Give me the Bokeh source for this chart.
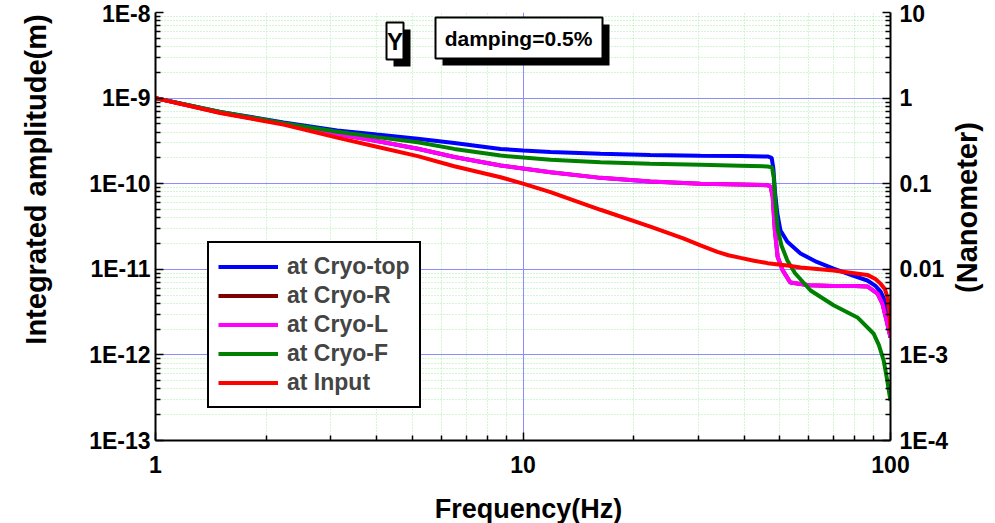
import math
from bokeh.plotting import figure
from bokeh.layouts import row, column
from bokeh.models import (Range1d, LogAxis, LogScale, FixedTicker, Legend, LegendItem,
                          Label, BoxAnnotation)
from bokeh.embed import file_html
from bokeh.resources import INLINE

# ---------------- data ----------------
freq_top = [1, 1.5, 2.23, 3.12, 4.0, 5.17, 6.5, 8.69, 10, 11.88, 16.25, 22.2, 30.4, 39.0, 46.3,
            47.5, 48.0, 48.5, 49.2, 50.2, 52.4, 56.9, 63, 70, 78, 86.5, 91, 94, 96.5, 98.8, 100]
amp_top = [1.0e-9, 6.9e-10, 5.2e-10, 4.18e-10, 3.75e-10, 3.36e-10, 2.98e-10, 2.55e-10, 2.44e-10,
           2.35e-10, 2.24e-10, 2.17e-10, 2.12e-10, 2.10e-10, 2.08e-10, 2.0e-10, 1.5e-10, 8e-11,
           4.5e-11, 2.84e-11, 2.1e-11, 1.53e-11, 1.22e-11, 1.02e-11, 8.6e-12, 7.4e-12, 6.4e-12,
           5.5e-12, 4.3e-12, 2.5e-12, 1.6e-12]

freq_R = [1, 1.5, 2.23, 3.12, 4.0, 5.17, 6.5, 8.69, 11.88, 16.25, 22.2, 30.4, 39.0, 46.3, 47.2,
          47.8, 48.4, 49.3, 50.9, 53.4, 60, 70, 80, 86.5, 92.2, 95, 97.6, 100]
amp_R = [1.0e-9, 6.8e-10, 5.0e-10, 3.8e-10, 3.15e-10, 2.56e-10, 2.05e-10, 1.63e-10, 1.36e-10,
         1.17e-10, 1.06e-10, 1.0e-10, 9.8e-11, 9.6e-11, 9.2e-11, 7e-11, 3e-11, 1.4e-11, 9.7e-12,
         7.0e-12, 6.5e-12, 6.4e-12, 6.4e-12, 6.3e-12, 5.2e-12, 4.0e-12, 2.5e-12, 1.6e-12]

freq_L = [1, 1.5, 2.23, 3.12, 4.0, 5.17, 6.5, 8.69, 11.88, 16.25, 22.2, 30.4, 39.0, 46.3, 47.2,
          47.8, 48.4, 49.3, 50.9, 53.4, 60, 70, 80, 86.5, 92.2, 95, 97.6, 100]
amp_L = [1.0e-9, 6.8e-10, 5.0e-10, 3.8e-10, 3.15e-10, 2.56e-10, 2.05e-10, 1.63e-10, 1.36e-10,
         1.17e-10, 1.06e-10, 1.0e-10, 9.8e-11, 9.6e-11, 9.2e-11, 7e-11, 3e-11, 1.4e-11, 9.7e-12,
         7.0e-12, 6.5e-12, 6.4e-12, 6.4e-12, 6.3e-12, 5.2e-12, 4.0e-12, 2.5e-12, 1.6e-12]

freq_F = [1, 1.5, 2.23, 3.12, 4.0, 5.17, 6.5, 8.69, 11.88, 16.25, 22.2, 30.4, 39.0, 46.3, 47.6,
          48.1, 48.6, 49.3, 50.5, 52.4, 55, 60.6, 70, 81.3, 89.9, 93, 95.8, 98, 100]
amp_F = [1.0e-9, 6.9e-10, 5.1e-10, 4.05e-10, 3.5e-10, 3.05e-10, 2.55e-10, 2.13e-10, 1.9e-10,
         1.78e-10, 1.71e-10, 1.66e-10, 1.62e-10, 1.59e-10, 1.55e-10, 1.2e-10, 6e-11, 3e-11,
         1.9e-11, 1.27e-11, 9e-12, 5.65e-12, 3.8e-12, 2.74e-12, 1.78e-12, 1.3e-12, 8.6e-13,
         5e-13, 2.9e-13]

freq_in = [1, 1.5, 2.23, 3.12, 4.0, 5.17, 6.5, 8.69, 10, 11.88, 16.25, 22.2, 27.3, 30.4, 33.8,
           36.2, 39.1, 42.5, 46.3, 52.4, 56.9, 70, 86.5, 91, 93.9, 96.5, 98.1, 99.3, 100]
amp_in = [1.0e-9, 6.7e-10, 4.9e-10, 3.45e-10, 2.7e-10, 2.1e-10, 1.6e-10, 1.19e-10, 1.0e-10,
          7.96e-11, 4.96e-11, 3.16e-11, 2.3e-11, 1.9e-11, 1.6e-11, 1.46e-11, 1.36e-11, 1.26e-11,
          1.18e-11, 1.11e-11, 1.05e-11, 9.7e-12, 8.6e-12, 7.7e-12, 6.8e-12, 5.9e-12, 4.7e-12,
          3.2e-12, 1.8e-12]

series_labels = ["at Cryo-top", "at Cryo-R", "at Cryo-L", "at Cryo-F", "at Input"]
series_colors = ["#0000ff", "#800000", "#ff00ff", "#008000", "#ff0000"]

x_ticks = [1, 10, 100]
x_tick_labels = ["1", "10", "100"]
y_ticks = [1e-13, 1e-12, 1e-11, 1e-10, 1e-9, 1e-8]
y_tick_labels = ["1E-13", "1E-12", "1E-11", "1E-10", "1E-9", "1E-8"]
nm_ticks = [1e-4, 1e-3, 0.01, 0.1, 1, 10]
nm_tick_labels = ["1E-4", "1E-3", "0.01", "0.1", "1", "10"]

x_label = "Frequency(Hz)"
y_label = "Integrated amplitude(m)"
nm_label = "(Nanometer)"
title_axis = "Y"
title_damping = "damping=0.5%"

FONT = "Liberation Sans"

# minor tick positions
x_minor = [m * 10 ** e for e in range(0, 2) for m in range(2, 10)]
y_minor = [m * 10.0 ** e for e in range(-13, -8) for m in range(2, 10)]
nm_minor = [m * 10.0 ** e for e in range(-4, 1) for m in range(2, 10)]

# ---------------- main plot ----------------
p = figure(frame_width=735, frame_height=428,
           x_axis_type="log", y_axis_type="log",
           x_range=Range1d(1, 100), y_range=Range1d(1e-13, 1e-8),
           output_backend="svg", toolbar_location=None,
           min_border_left=95, min_border_right=60, min_border_top=12, min_border_bottom=43)
p.outline_line_color = None
p.background_fill_color = "white"

p.extra_y_ranges = {"nm": Range1d(1e-4, 10)}
p.extra_y_scales = {"nm": LogScale()}

xt = FixedTicker(ticks=x_ticks, minor_ticks=x_minor)
yt = FixedTicker(ticks=y_ticks, minor_ticks=y_minor)
p.xaxis.ticker = xt
p.yaxis.ticker = yt
p.xaxis.major_label_overrides = dict(zip(x_ticks, x_tick_labels))
p.yaxis.major_label_overrides = dict(zip(y_ticks, y_tick_labels))

right = LogAxis(y_range_name="nm", ticker=FixedTicker(ticks=nm_ticks, minor_ticks=nm_minor))
right.major_label_overrides = dict(zip(nm_ticks, nm_tick_labels))
p.add_layout(right, "right")

for ax in [p.xaxis[0], p.yaxis[0], right]:
    ax.axis_line_color = "black"
    ax.axis_line_width = 2
    ax.major_tick_in = 8
    ax.major_tick_out = 0
    ax.minor_tick_in = 5
    ax.minor_tick_out = 0
    ax.major_tick_line_width = 1.5
    ax.minor_tick_line_width = 1.5
    ax.major_label_text_font = FONT
    ax.major_label_text_font_style = "bold"
    ax.major_label_text_font_size = "23px"
    ax.major_label_text_color = "black"
p.xaxis.major_label_standoff = 15
p.yaxis.major_label_standoff = 5
right.major_label_standoff = 9

for g in [p.xgrid[0], p.ygrid[0]]:
    g.grid_line_color = "#8c8cff"
    g.grid_line_width = 1
    g.minor_grid_line_color = "#a8eca8"
    g.minor_grid_line_dash = "1 2"
    g.minor_grid_line_width = 1
p.xgrid.ticker = xt
p.ygrid.ticker = yt

data = [(freq_top, amp_top), (freq_R, amp_R), (freq_L, amp_L), (freq_F, amp_F), (freq_in, amp_in)]
renderers = []
for (f, a), c in zip(data, series_colors):
    renderers.append(p.line(f, a, line_color=c, line_width=4))

legend = Legend(items=[LegendItem(label=l, renderers=[r]) for l, r in zip(series_labels, renderers)],
                location=(52, 32))
legend.border_line_color = "black"
legend.border_line_width = 2
legend.border_line_alpha = 1
legend.background_fill_color = "white"
legend.background_fill_alpha = 1
legend.label_text_font = FONT
legend.label_text_font_style = "bold"
legend.label_text_font_size = "23px"
legend.glyph_width = 60
legend.glyph_height = 29
legend.label_height = 29
legend.spacing = 0
legend.padding = 9
legend.label_standoff = 9
legend.margin = 0
p.add_layout(legend)

# title boxes with drop shadows (screen units relative to the frame)
for (l, r, t, b, txt, size, cx, cy) in [
        (231, 248, 418, 381, title_axis, "24px", 239.5, 399.5),
        (280, 447, 423, 382, title_damping, "21px", 363, 402)]:
    p.add_layout(BoxAnnotation(left=l + 7, right=r + 7, top=t - 7, bottom=b - 7,
                               left_units="screen", right_units="screen",
                               top_units="screen", bottom_units="screen",
                               fill_color="black", fill_alpha=1, line_color=None))
    p.add_layout(BoxAnnotation(left=l, right=r, top=t, bottom=b,
                               left_units="screen", right_units="screen",
                               top_units="screen", bottom_units="screen",
                               fill_color="white", fill_alpha=1, line_color="black",
                               line_alpha=1, line_width=2))
    p.add_layout(Label(x=cx, y=cy, x_units="screen", y_units="screen", text=txt,
                       text_align="center", text_baseline="middle", text_font=FONT,
                       text_font_style="bold", text_font_size=size, text_color="black"))


# ---------------- strips that carry the axis titles ----------------
def title_strip(width, height, text, x, y, angle, size):
    s = figure(width=width, height=height, x_range=Range1d(0, 1), y_range=Range1d(0, 1),
               output_backend="svg", toolbar_location=None,
               x_axis_location=None, y_axis_location=None, min_border=0)
    s.outline_line_color = None
    s.xgrid.visible = False
    s.ygrid.visible = False
    s.add_layout(Label(x=x, y=y, x_units="screen", y_units="screen", text=text, angle=angle,
                       text_align="center", text_baseline="middle", text_font=FONT,
                       text_font_style="bold", text_font_size=size, text_color="black"))
    return s


# the strips' frames line up with the main frame, so y is measured from its bottom edge
left_strip = title_strip(60, 483, y_label, 35, 261, math.pi / 2, "29px")
right_strip = title_strip(45, 483, nm_label, 15, 233, math.pi / 2, "29px")
bottom_strip = title_strip(995, 40, x_label, 528, 15, 0, "27px")

layout = column(row(left_strip, p, right_strip, spacing=0), bottom_strip, spacing=0)

open("out.html", "w").write(file_html(layout, INLINE))
